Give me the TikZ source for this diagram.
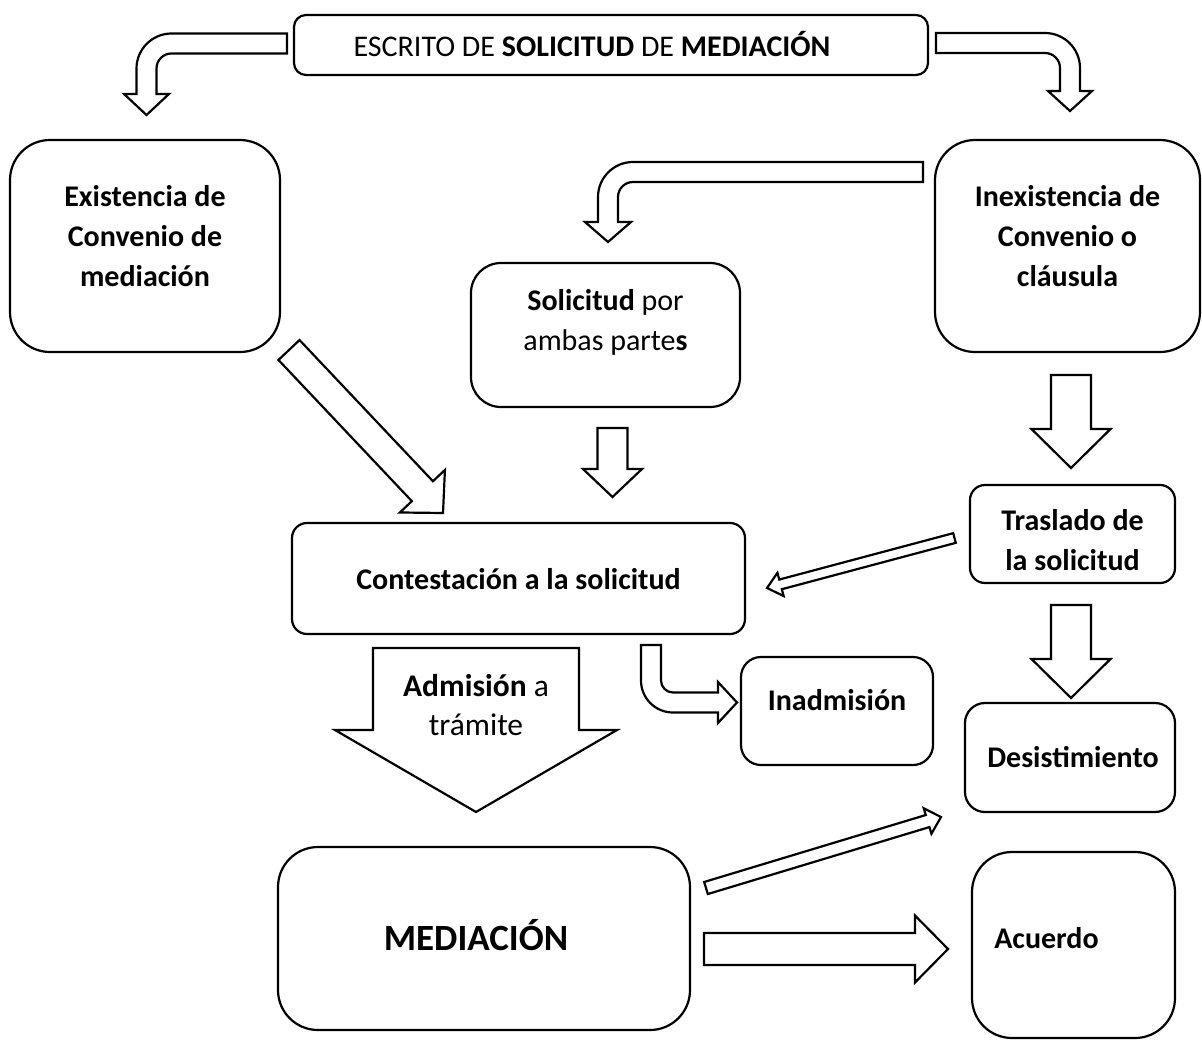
\documentclass[tikz,border=0pt]{standalone}
\usepackage{fontspec}
\setmainfont{Carlito}
\usetikzlibrary{calc}
\tikzset{
  box/.style={draw, line width=2.2pt, inner sep=0pt},
  txt/.style={align=center, inner sep=0pt, font=\fontsize{30}{40}\selectfont},
  btxt/.style={txt, font=\fontsize{30}{40}\selectfont\bfseries},
  blk/.style={draw, line width=2.2pt, fill=white, line join=miter},
}
\newcommand{\myblkarrow}[5]{%
  \coordinate (ba-t) at #1; \coordinate (ba-h) at #2;
  \coordinate (ba-b) at ($(ba-h)!#5!(ba-t)$);
  \draw[blk] ($(ba-t)!#3!90:(ba-h)$) -- ($(ba-b)!#3!90:(ba-h)$) -- ($(ba-b)!#4!90:(ba-h)$) -- (ba-h) -- ($(ba-b)!#4!-90:(ba-h)$) -- ($(ba-b)!#3!-90:(ba-h)$) -- ($(ba-t)!#3!-90:(ba-h)$) -- cycle;}
\begin{document}
\begin{tikzpicture}[x=1pt,y=-1pt]
\useasboundingbox (0,0) rectangle (1202,1041);
% boxes
\node[box, rounded corners=12pt, minimum width=634pt, minimum height=60pt] (top) at (611,45) {};
\node[txt] (top-t) at ([xshift=-19pt,yshift=1pt]top.center) {ESCRITO DE \textbf{SOLICITUD} DE \textbf{MEDIACIÓN}};
\node[box, rounded corners=40pt, minimum width=270pt, minimum height=212pt] (exist) at (145,246) {};
\node[btxt] (exist-t) at ([yshift=10pt]exist.center) {Existencia de\\Convenio de\\mediación};
\node[box, rounded corners=40pt, minimum width=265pt, minimum height=212pt] (inex) at (1067.5,246) {};
\node[btxt] (inex-t) at ([yshift=10pt]inex.center) {Inexistencia de\\Convenio o\\cláusula};
\node[box, rounded corners=30pt, minimum width=269pt, minimum height=144pt] (solic) at (605.5,335) {};
\node[txt] (solic-t) at ([yshift=13pt]solic.center) {\textbf{Solicitud} por\\ambas parte\textbf{s}};
\node[box, rounded corners=15pt, minimum width=453pt, minimum height=111pt] (contest) at (518.5,578.5) {};
\node[btxt] (contest-t) at ([yshift=-1pt]contest.center) {Contestación a la solicitud};
\node[box, rounded corners=15pt, minimum width=205pt, minimum height=98pt] (trasl) at (1072.5,534) {};
\node[btxt] (trasl-t) at ([yshift=-6pt]trasl.center) {Traslado de\\la solicitud};
\node[box, rounded corners=20pt, minimum width=192pt, minimum height=108pt] (inadm) at (837,711) {};
\node[btxt] (inadm-t) at ([yshift=11pt]inadm.center) {Inadmisión};
\node[box, rounded corners=20pt, minimum width=210pt, minimum height=109pt] (desist) at (1070,757.5) {};
\node[btxt] (desist-t) at ([xshift=3pt]desist.center) {Desistimiento};
\node[box, rounded corners=40pt, minimum width=412pt, minimum height=183pt] (mediac) at (484,938.5) {};
\node[btxt, font=\fontsize{37}{44}\selectfont\bfseries] (mediac-t) at ([xshift=-8pt,yshift=3pt]mediac.center) {MEDIACIÓN};
\node[box, rounded corners=40pt, minimum width=203pt, minimum height=186pt] (acuerdo) at (1073.5,945) {};
\node[btxt] (acuerdo-t) at ([xshift=-27pt,yshift=7pt]acuerdo.center) {Acuerdo};
% bent arrows
\draw[blk] (287,33.5) -- (171.5,33.5) .. controls (152.2,33.5) and (136.5,49.2) .. (136.5,68.5) -- (136.5,94) -- (124,94) -- (146.5,115) -- (169,94) -- (156.5,94) -- (156.5,68.5) .. controls (156.5,60.2) and (163.2,53.5) .. (171.5,53.5) -- (287,53.5) -- cycle;
\draw[blk] (936,33) -- (1045,33) .. controls (1064.3,33) and (1080,48.7) .. (1080,68) -- (1080,91) -- (1092,91) -- (1070,111) -- (1048,91) -- (1060,91) -- (1060,68) .. controls (1060,59.7) and (1053.3,53) .. (1045,53) -- (936,53) -- cycle;
\draw[blk] (923,162) -- (633,162) .. controls (613.7,162) and (598,177.7) .. (598,197) -- (598,222) -- (585,222) -- (608,242) -- (631,222) -- (618,222) -- (618,197) .. controls (618,188.7) and (624.7,182) .. (633,182) -- (923,182) -- cycle;
\draw[blk] (641,645) -- (661,645) -- (661,680.5) .. controls (661,687.1) and (666.4,692.5) .. (673,692.5) -- (718,692.5) -- (718,682) -- (737,702.5) -- (718,723) -- (718,712.5) -- (673,712.5) .. controls (655.3,712.5) and (641,698.2) .. (641,680.5) -- cycle;
% straight block arrows
\myblkarrow{(289,350)}{(443,513)}{14.5pt}{31pt}{30pt}
\myblkarrow{(612.5,428)}{(612.5,497)}{15pt}{29.5pt}{28pt}
\myblkarrow{(1071,375)}{(1071,468)}{20pt}{39.5pt}{39pt}
\myblkarrow{(1071,605)}{(1071,698)}{20pt}{39.5pt}{39pt}
\myblkarrow{(954.5,538)}{(767,588)}{5pt}{12pt}{14pt}
\myblkarrow{(706,888)}{(941,817)}{6.3pt}{13.3pt}{14pt}
\myblkarrow{(704,949)}{(948,949)}{16pt}{33.5pt}{33pt}
\myblkarrow{(476,648)}{(476,812)}{103pt}{141pt}{82pt}
\node[txt, font=\fontsize{31.5}{39}\selectfont] (adm) at (476,705) {\textbf{Admisión} a\\trámite};
\end{tikzpicture}
\end{document}
